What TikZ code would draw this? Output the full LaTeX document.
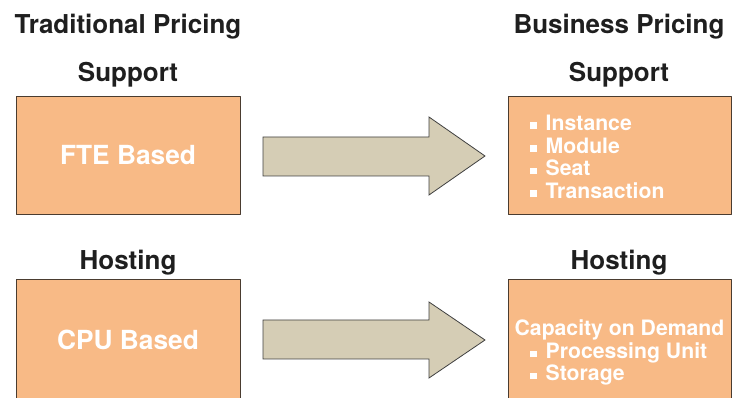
\documentclass[tikz,border=0pt]{standalone}
\usepackage{fontspec}
\setmainfont{TeX Gyre Heros}
\definecolor{boxfill}{HTML}{F8BA86}
\definecolor{boxline}{HTML}{4A3C30}
\definecolor{arrowfill}{HTML}{D5CDB5}
\newcommand{\sqbullet}{\textcolor{white}{\rule[1.5pt]{6.5pt}{6.5pt}}\hspace{9pt}}
\tikzset{
  pricebox/.style={draw=boxline,fill=boxfill,line width=1pt,minimum width=224pt,inner sep=0pt},
  bigarrow/.style={draw=black!75,fill=arrowfill,line width=0.8pt,line join=miter},
  heading/.style={font=\fontsize{26}{30}\selectfont\bfseries,text=black!88,anchor=base,inner sep=0pt},
  boxlabel/.style={font=\fontsize{26.3}{30}\selectfont\bfseries,text=white,inner sep=0pt},
  item/.style={font=\fontsize{21.2}{25}\selectfont\bfseries,text=white,inner sep=0pt,anchor=base west}
}
\begin{document}
\begin{tikzpicture}[line cap=round,line join=round,x=1pt,y=-1pt]
		\useasboundingbox (0,0) rectangle (732,398);
		% headings
		\node[heading] (oldtitle) at (128,34) {Traditional Pricing};
		\node[heading] (newtitle) at (619,34) {Business Pricing};
		\node[heading] (oldsup) at (128,82) {Support};
		\node[heading] (newsup) at (619,82) {Support};
		\node[heading] (oldhost) at (128,270) {Hosting};
		\node[heading] (newhost) at (619,270) {Hosting};
		% boxes
		\node[pricebox,minimum height=118pt] (fte) at (128,156) {};
		\node[pricebox,minimum height=124pt] (cpu) at (128,342) {};
		\node[pricebox,minimum height=118pt,minimum width=223pt] (supbox) at (619.5,156) {};
		\node[pricebox,minimum height=124pt,minimum width=223pt] (hostbox) at (619.5,342) {};
		\node[boxlabel] (ftetext) at (128,155) {FTE Based};
		\node[boxlabel] (cputext) at (128,340) {CPU Based};
		% arrows
		\draw[bigarrow] (263,137)-- (429,137)-- (429,117)-- (485,156)-- (429,195)-- (429,176)-- (263,176)-- cycle;
		\draw[bigarrow] (263,320)-- (429,320)-- (429,302)-- (485,340)-- (429,378)-- (429,359)-- (263,359)-- cycle;
		% lists
		\foreach \txt [count=\i] in {Instance,Module,Seat,Transaction}
			\node[item] (sup\i) at (530,{130.5+22.6*(\i-1)}) {\sqbullet\txt};
		\node[item,anchor=base] (cap) at (619.5,336) {Capacity on Demand};
		\node[item] (host1) at (530,359) {\sqbullet Processing Unit};
		\node[item] (host2) at (530,381) {\sqbullet Storage};
		\end{tikzpicture}
\end{document}
